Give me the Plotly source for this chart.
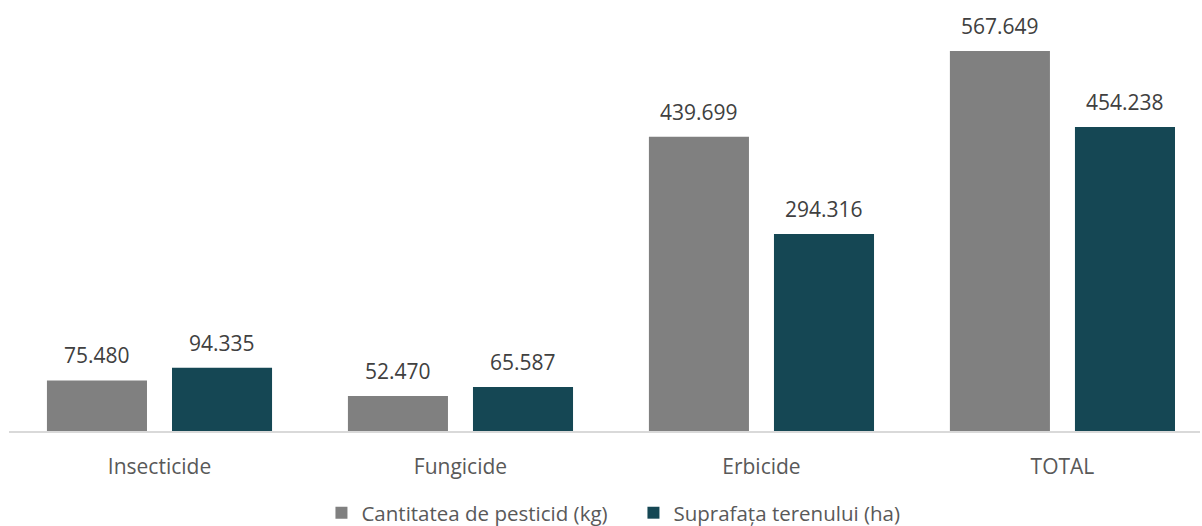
import plotly.graph_objects as go

categories = ["Insecticide", "Fungicide", "Erbicide", "TOTAL"]
cantitate_kg = [75480, 52470, 439699, 567649]
suprafata_ha = [94335, 65587, 294316, 454238]

series = [
    ("Cantitatea de pesticid (kg)", cantitate_kg, "#808080", -62.5),
    ("Suprafața terenului (ha)", suprafata_ha, "#154754", 62.5),
]

fig = go.Figure()
annotations = []
for name, vals, color, dx in series:
    fig.add_trace(go.Bar(
        x=categories, y=vals, name=name,
        marker=dict(color=color, line=dict(width=0)),
    ))
    for c, v in zip(categories, vals):
        annotations.append(dict(
            x=c, y=v, xref="x", yref="y", xshift=dx, yshift=9,
            text=f"{v:,}".replace(",", "."), showarrow=False,
            yanchor="bottom", font=dict(size=21, color="#404040"),
        ))

fig.update_layout(
    width=1202, height=526,
    margin=dict(l=9, r=2, t=10, b=95),
    paper_bgcolor="white", plot_bgcolor="white",
    font=dict(family="Open Sans", size=21, color="#595959"),
    barmode="group", bargap=0.169, bargroupgap=0.2,
    separators=",.",
    annotations=annotations,
    showlegend=True,
    legend=dict(orientation="h", x=0.527, xanchor="center", xref="container",
                y=0.025, yanchor="middle", yref="container",
                font=dict(size=20.5, color="#595959"), itemwidth=30,
                entrywidth=267, traceorder="normal"),
    xaxis=dict(showline=True, linecolor="#d9d9d9", linewidth=1.5, showgrid=False,
               range=[-0.5, 3.457],
               ticks="", ticklabelstandoff=16, tickfont=dict(size=21, color="#595959")),
    yaxis=dict(visible=False, range=[0, 628900], showgrid=False, zeroline=False),
)

fig.write_html("out.html")
